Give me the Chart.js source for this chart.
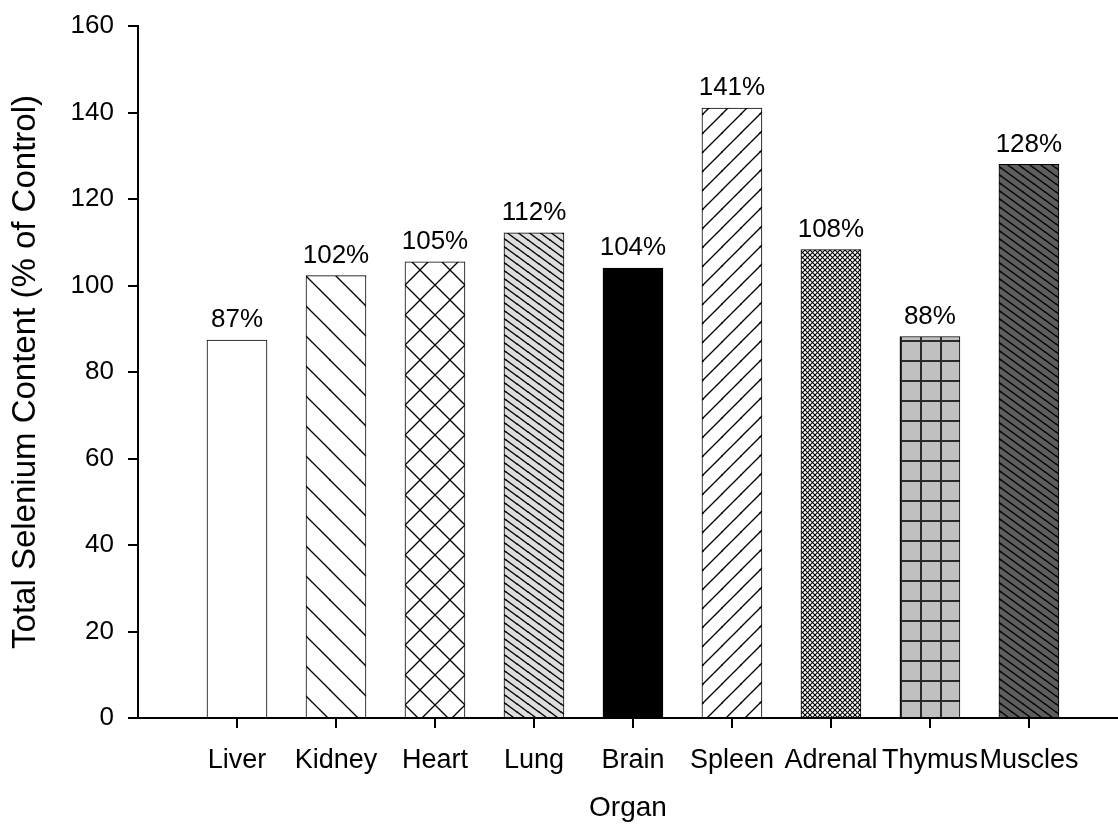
<!DOCTYPE html>
<html>
<head>
<meta charset="utf-8">
<script src="https://cdn.jsdelivr.net/npm/chart.js@4/dist/chart.umd.min.js"></script>
<style>
  html, body { margin: 0; padding: 0; background: #fff; }
  #wrap { width: 1118px; height: 835px; }
</style>
</head>
<body>
<div id="wrap"><canvas id="chart"></canvas></div>
<script>
// Data
const organs = ['Liver', 'Kidney', 'Heart', 'Lung', 'Brain', 'Spleen', 'Adrenal', 'Thymus', 'Muscles'];
const seleniumPct = [87.4, 102.3, 105.5, 112.2, 104, 141, 108.3, 88.2, 128];
const pctLabels = ['87%', '102%', '105%', '112%', '104%', '141%', '108%', '88%', '128%'];
const yTicks = [0, 20, 40, 60, 80, 100, 120, 140, 160];

const FONT = 'Liberation Sans, Arial, sans-serif';

// Build a repeating hatch tile
function hatch(bg, w, h, dir, lineW, lineColor) {
    const c = document.createElement('canvas');
    c.width = w; c.height = h;
    const g = c.getContext('2d');
    g.fillStyle = bg;
    g.fillRect(0, 0, w, h);
    g.strokeStyle = lineColor || '#000';
    g.lineWidth = lineW;
    const offs = [[0, 0], [w, 0], [-w, 0], [0, h], [0, -h]];
    function line(x0, y0, x1, y1) {
        offs.forEach(function(o) {
            g.beginPath();
            g.moveTo(x0 + o[0], y0 + o[1]);
            g.lineTo(x1 + o[0], y1 + o[1]);
            g.stroke();
        });
    }
    if (dir === 'back' || dir === 'cross') line(-w, -h, 2 * w, 2 * h);
    if (dir === 'fwd' || dir === 'cross') line(-w, 2 * h, 2 * w, -h);
    if (dir === 'grid') {
        g.fillStyle = lineColor || '#000';
        g.fillRect(0, 0, lineW, h);
        g.fillRect(0, 0, w, lineW);
    }
    return g.createPattern(c, 'repeat');
}

function buildFills() {
    return [
        '#ffffff',
        hatch('#ffffff', 30, 30, 'back', 1.3),
        hatch('#ffffff', 30, 30, 'cross', 1.3),
        hatch('#dedede', 11, 8, 'back', 1.4),
        '#000000',
        hatch('#ffffff', 19, 19, 'fwd', 1.3),
        hatch('#ffffff', 5, 5, 'cross', 1.1),
        hatch('#c0c0c0', 20, 20, 'grid', 2, '#2a2a2a'),
        hatch('#5e5e5e', 11, 8, 'back', 1.4)
    ];
}

// Percent labels above each bar
const barLabels = {
    id: 'barLabels',
    afterDatasetsDraw(chart) {
        const ctx = chart.ctx;
        const meta = chart.getDatasetMeta(0);
        ctx.save();
        ctx.fillStyle = '#000';
        ctx.font = '26px ' + FONT;
        ctx.textAlign = 'center';
        ctx.textBaseline = 'bottom';
        meta.data.forEach(function(el, i) {
            ctx.fillText(pctLabels[i], el.x, el.y - 7);
        });
        ctx.restore();
    }
};

new Chart(document.getElementById('chart'), {
    type: 'bar',
    data: {
        datasets: [{
            data: seleniumPct.map(function(v, i) { return { x: i + 1, y: v }; }),
            backgroundColor: buildFills(),
            borderColor: '#000',
            borderWidth: 1,
            barThickness: 60
        }]
    },
    plugins: [barLabels],
    options: {
        responsive: true,
        maintainAspectRatio: false,
        animation: false,
        layout: { padding: { top: 26, right: 0, left: 0, bottom: 0 } },
        plugins: {
            legend: { display: false },
            tooltip: { enabled: false }
        },
        scales: {
            x: {
                type: 'linear',
                min: 0,
                max: 9.9,
                offset: false,
                afterBuildTicks: function(scale) {
                    scale.ticks = organs.map(function(_, i) { return { value: i + 1 }; });
                },
                afterFit: function(scale) { scale.height = 117; },
                ticks: {
                    autoSkip: false,
                    maxRotation: 0,
                    color: '#000',
                    padding: 16,
                    font: { family: FONT, size: 27 },
                    callback: function(v) { return organs[v - 1] || ''; }
                },
                grid: { offset: false, drawOnChartArea: false, drawTicks: true, tickLength: 10, color: '#000', lineWidth: 2 },
                border: { color: '#000', width: 2 },
                title: {
                    display: true,
                    text: 'Organ',
                    color: '#000',
                    font: { family: FONT, size: 28 },
                    padding: { top: 14, bottom: 10 }
                }
            },
            y: {
                min: 0,
                max: 160,
                afterBuildTicks: function(scale) {
                    scale.ticks = yTicks.map(function(v) { return { value: v }; });
                },
                afterFit: function(scale) {
                    scale.width = 138;
                    scale.paddingTop = 0;
                },
                ticks: {
                    color: '#000',
                    padding: 14,
                    font: { family: FONT, size: 26 }
                },
                grid: { drawOnChartArea: false, drawTicks: true, tickLength: 10, color: '#000', lineWidth: 2 },
                border: { color: '#000', width: 2 },
                title: {
                    display: true,
                    text: 'Total Selenium Content (% of Control)',
                    color: '#000',
                    font: { family: FONT, size: 33 },
                    padding: { top: 6, bottom: 0 }
                }
            }
        }
    }
});
</script>
</body>
</html>
